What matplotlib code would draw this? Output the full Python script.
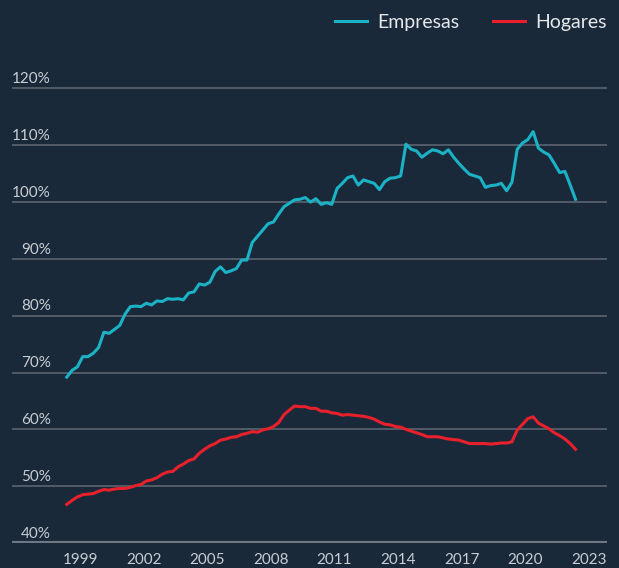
import numpy as np
import pandas as pd
import matplotlib
matplotlib.use("Agg")
import matplotlib.pyplot as plt
import matplotlib.transforms as mtransforms

# quarterly data, 1998Q2 - 2022Q2 (% of GDP)
quarters = pd.period_range("1998Q2", "2022Q2", freq="Q")

empresas = [69.2, 70.4, 71.0, 72.8, 72.8, 73.4, 74.4, 77.1, 76.9, 77.6,
            78.3, 80.3, 81.6, 81.7, 81.6, 82.2, 81.9, 82.6, 82.5, 83.0,
            82.9, 83.0, 82.8, 84.0, 84.2, 85.6, 85.4, 85.9, 87.8, 88.6,
            87.6, 87.9, 88.3, 89.8, 89.8, 92.9, 94.0, 95.1, 96.2, 96.5,
            97.9, 99.2, 99.8, 100.4, 100.5, 100.8, 100.0, 100.6, 99.6, 99.9,
            99.6, 102.4, 103.3, 104.3, 104.6, 103.0, 103.9, 103.6, 103.3, 102.2,
            103.6, 104.2, 104.3, 104.6, 110.2, 109.3, 109.0, 107.9, 108.6, 109.2,
            109.0, 108.5, 109.2, 107.9, 106.8, 105.8, 104.9, 104.6, 104.3, 102.6,
            102.9, 103.0, 103.3, 102.0, 103.5, 109.3, 110.4, 111.0, 112.4, 109.5,
            108.8, 108.3, 106.8, 105.2, 105.4, 103.0, 100.5]

hogares = [46.8, 47.5, 48.1, 48.5, 48.6, 48.7, 49.1, 49.4, 49.3, 49.5,
           49.6, 49.6, 49.8, 50.1, 50.3, 50.9, 51.1, 51.5, 52.1, 52.5,
           52.6, 53.4, 53.9, 54.5, 54.8, 55.8, 56.5, 57.1, 57.5, 58.1,
           58.3, 58.6, 58.7, 59.1, 59.3, 59.6, 59.5, 59.9, 60.1, 60.5,
           61.2, 62.6, 63.4, 64.1, 64.0, 64.0, 63.7, 63.7, 63.2, 63.2,
           62.9, 62.8, 62.5, 62.6, 62.5, 62.4, 62.3, 62.1, 61.8, 61.3,
           60.9, 60.8, 60.5, 60.4, 60.0, 59.7, 59.4, 59.1, 58.7, 58.7,
           58.7, 58.5, 58.3, 58.2, 58.1, 57.8, 57.5, 57.5, 57.5, 57.5,
           57.4, 57.5, 57.6, 57.6, 57.8, 59.9, 60.9, 61.9, 62.2, 61.1,
           60.6, 60.1, 59.4, 58.9, 58.3, 57.5, 56.5]

year_ticks = [1999, 2002, 2005, 2008, 2011, 2014, 2017, 2020, 2023]
pct_ticks = [40, 50, 60, 70, 80, 90, 100, 110, 120]

# decimal year, mid-quarter
x = np.array([q.year + (q.quarter - 1) / 4 + 0.125 for q in quarters])

bg = "#19293a"
grid_c = "#5a6570"
txt_c = "#c9cdd2"

plt.rcParams["font.family"] = ["Lato", "DejaVu Sans"]

fig = plt.figure(figsize=(6.19, 5.68), dpi=100, facecolor=bg)
ax = fig.add_axes([12 / 619, 25 / 568, 595 / 619, 500 / 568], facecolor=bg)

ax.set_xlim(1995.79, 2023.86)
ax.set_ylim(40, 128)

for v in pct_ticks[1:]:
    ax.axhline(v, color=grid_c, lw=1.2, zorder=1)
ax.axhline(40, color="#6e7882", lw=3, zorder=1)

ax.plot(x, empresas, color="#1cb2c6", lw=2.2, label="Empresas", zorder=3,
        solid_joinstyle="round")
ax.plot(x, hogares, color="#e8202b", lw=2.2, label="Hogares", zorder=3,
        solid_joinstyle="round")

# y labels sit above their gridline
trans = mtransforms.blended_transform_factory(ax.transAxes, ax.transData)
for v in pct_ticks:
    ax.text(39 / 595, v + 0.4, f"{v}%", transform=trans, ha="right", va="bottom",
            color=txt_c, fontsize=11)

ax.set_yticks([])
ax.set_xticks(year_ticks)
ax.set_xticklabels([str(y) for y in year_ticks])
ax.tick_params(axis="x", length=0, pad=7, labelsize=11, labelcolor=txt_c)
for s in ax.spines.values():
    s.set_visible(False)

leg = ax.legend(loc="upper right", bbox_to_anchor=(1.0, 1.058),
                bbox_transform=ax.transAxes, ncol=2, frameon=False,
                fontsize=14, handlelength=1.65, handletextpad=0.55,
                columnspacing=1.7, borderaxespad=0, borderpad=0)
for t in leg.get_texts():
    t.set_color("#e6e8eb")

fig.savefig("out.png", dpi=100, facecolor=bg)
